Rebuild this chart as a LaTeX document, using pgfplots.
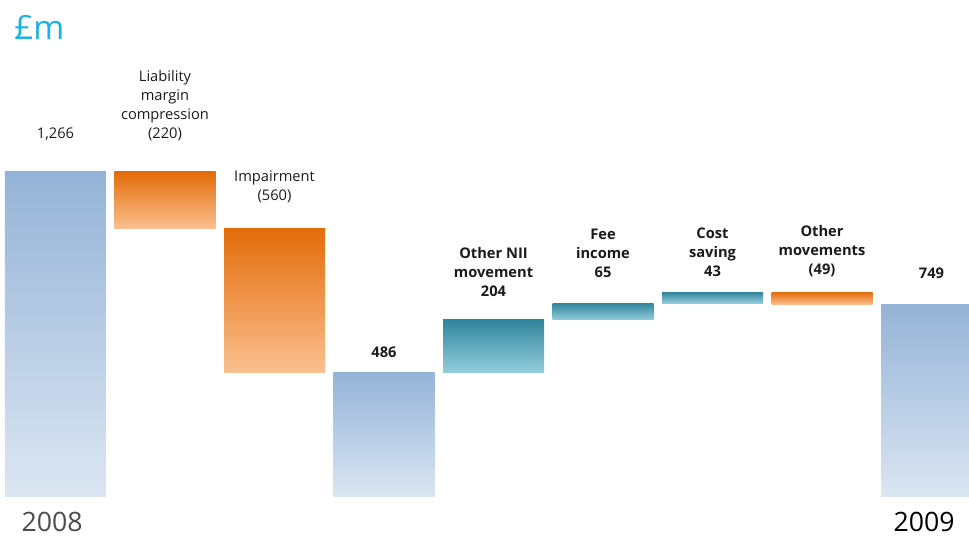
\documentclass[border=0pt]{standalone}
\usepackage{pgfplots}
\pgfplotsset{compat=1.18}
\usepackage{fontspec}
\setmainfont{Open Sans}

\definecolor{totTop}{HTML}{95B3D7}
\definecolor{totBot}{HTML}{DCE6F2}
\definecolor{negTop}{HTML}{E36C09}
\definecolor{negBot}{HTML}{FAC090}
\definecolor{posTop}{HTML}{31859C}
\definecolor{posBot}{HTML}{92CDDC}
\definecolor{unitc}{HTML}{1BB1E7}
\definecolor{lbl}{HTML}{1A1A1A}

% shared frame for the overlaid waterfall layers
\pgfplotsset{
  wf/.style={
    at={(0pt,0pt)}, anchor=south west,
    scale only axis, width=726.75pt, height=402pt,
    xmin=-0.5068, xmax=8.3425, ymin=-152, ymax=1936,
    hide axis,
  },
}
\tikzset{
  lab/.style={anchor=south, align=center, inner sep=0pt, text depth=0pt,
    font=\fontsize{11}{14.25}\selectfont, text=lbl},
  blab/.style={lab, font=\fontsize{11}{14.25}\selectfont\bfseries},
}

% one floating bar: position, base, change, top colour, bottom colour
\newcommand\floatbar[5]{%
  \begin{axis}[wf, ybar stacked, bar width=75.75pt]
  \addplot[draw=none, fill=none] coordinates {(#1,#2)};
  \addplot[draw=none, top color=#4, bottom color=#5] coordinates {(#1,#3)};
  \end{axis}}

\begin{document}
\begin{tikzpicture}
\useasboundingbox (0,0) rectangle (726.75pt,402pt);

% opening, intermediate and closing totals
\begin{axis}[wf, ybar, bar width=75.75pt, bar shift=0pt]
\addplot[draw=none, top color=totTop, bottom color=totBot] coordinates {(0,1266)};
\addplot[draw=none, top color=totTop, bottom color=totBot] coordinates {(3,486)};
\addplot[draw=none, top color=totTop, bottom color=totBot] coordinates {(8,749)};
\end{axis}

% movements
\floatbar{1}{1046}{220}{negTop}{negBot}
\floatbar{2}{486}{560}{negTop}{negBot}
\floatbar{4}{486}{204}{posTop}{posBot}
\floatbar{5}{690}{65}{posTop}{posBot}
\floatbar{6}{755}{43}{posTop}{posBot}
\floatbar{7}{749}{49}{negTop}{negBot}

% value labels
\begin{axis}[wf, clip=false]
\node[lab, yshift=25.1pt] at (axis cs:0,1266) {1,266};
\node[lab, yshift=25.1pt] at (axis cs:1,1266) {Liability\\margin\\compression\\(220)};
\node[lab, yshift=21pt] at (axis cs:2,1046) {Impairment\\(560)};
\node[blab, yshift=11pt] at (axis cs:3,486) {486};
\node[blab, yshift=17.5pt] at (axis cs:4,690) {Other NII\\movement\\204};
\node[blab, yshift=19.3pt] at (axis cs:5,755) {Fee\\income\\65};
\node[blab, yshift=11.7pt] at (axis cs:6,798) {Cost\\saving\\43};
\node[blab, yshift=13.2pt] at (axis cs:7,798) {Other\\movements\\(49)};
\node[blab, yshift=19.7pt] at (axis cs:8,749) {749};

\node[anchor=base, inner sep=0pt, text depth=0pt, font=\fontsize{20}{24}\selectfont,
  text=black!70, xshift=-2.6pt, yshift=3.2pt] at (axis cs:0,-152) {2008};
\node[anchor=base, inner sep=0pt, text depth=0pt, font=\fontsize{20}{24}\selectfont,
  text=black, xshift=-5.6pt, yshift=3.2pt] at (axis cs:8,-152) {2009};
\end{axis}

\node[anchor=base west, inner sep=0pt, font=\fontsize{25}{30}\selectfont, text=unitc]
  at (10.5pt,372pt) {£m};
\end{tikzpicture}
\end{document}
